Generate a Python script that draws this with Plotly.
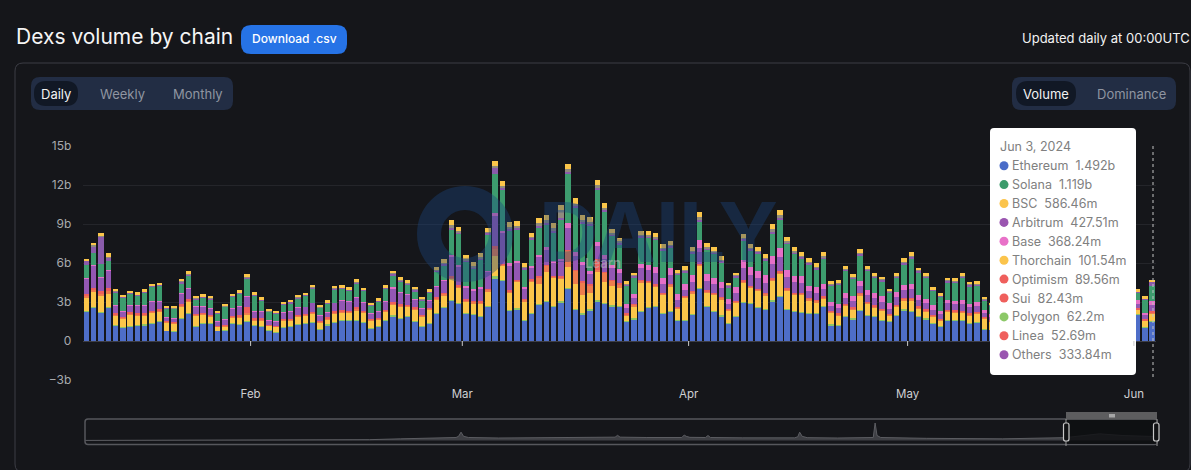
import pandas as pd
import plotly.graph_objects as go

W, H = 1191, 470
BG = "#15161a"

dates = pd.date_range("2024-01-09", "2024-06-03", freq="D")

ethereum = [
    2.26, 2.56, 2.2, 2.54,
    1.18, 1.05, 1.1, 1.2, 1.23, 1.38, 1.51, .77, .72, 1.72, 2.13, 1.1, 1.33, 1.36, .77, .79, 1.33, 1.26, 1.49, 1.18, 1.1, .82, .69, 1.05, 1.1, 1.26, 1.38, 1.46, .9, 1.23, 1.46, 1.56, 1.56, 1.56, 1.41, .95, 1.08, 1.54, 1.92, 1.74,
    1.87, 1.49, 1.15, 1.36, 2.1, 2.56, 3.08, 2.87, 2.08, 2.0, 1.87, 2.62, 4.82, 4.64, 2.31, 2.46, 1.56, 2.1, 2.79, 3.0, 2.62, 2.97, 4.0, 2.41, 2.05, 2.36, 3.05, 2.87, 2.69, 2.62,
    1.49, 1.69, 2.26, 2.56, 2.62, 2.13, 2.26, 1.54, 1.56, 2.03, 4.0, 2.62, 2.28, 1.92, 1.31, 1.85, 2.95, 2.87, 2.54, 2.41, 3.05, 3.41, 2.41, 2.28, 2.18, 2.13, 2.08, 2.64, 1.23, 1.18, 1.87, 1.69, 2.31, 1.97, 1.85, 1.56, 1.51, 1.95, 2.38, 2.28,
    1.87, 1.69, 1.33, 1.1, 1.59, 1.56, 1.54, 1.33, 1.44, .9, .85, 1.1, 1.2, 1.3, 1.0, .9, 1.2, 1.4, 1.5, 1.3, 1.1, 1.0, 1.3, 1.6, 1.7, 1.5, 1.2, 1.1, 1.4, 1.8, 2.0, 1.05, 1.492,
]
polygon = [
    .05, .05, .05, .05,
    .04, .04, .04, .04, .04, .04, .04, .03, .03, .05, .05, .04, .04, .04, .03, .03, .04, .04, .05, .04, .04, .03, .03, .03, .04, .04, .04, .04, .03, .04, .04, .04, .04, .05, .04, .03, .04, .04, .05, .05,
    .05, .05, .04, .04, .05, .06, .08, .06, .06, .06, .06, .06, .15, .08, .08, .08, .06, .06, .08, .08, .08, .08, .08, .08, .08, .08, .08, .08, .06, .06,
    .05, .05, .06, .06, .06, .06, .06, .05, .06, .06, .08, .06, .06, .06, .05, .05, .06, .06, .06, .06, .08, .08, .06, .06, .06, .06, .06, .06, .05, .05, .05, .05, .06, .05, .05, .05, .04, .05, .06, .06,
    .05, .05, .04, .04, .05, .05, .05, .05, .05, .04, .03, .04, .04, .04, .04, .04, .04, .04, .04, .04, .04, .04, .04, .04, .04, .04, .04, .04, .04, .04, .04, .04, .062,
]
bsc = [
    1.03, 1.15, 1.26, 1.05,
    .77, .62, .92, .75, .72, .75, .75, .62, .59, .87, .87, .8, .67, .46, .28, .33, .44, .54, .51, .39, .46, .31, .36, .51, .41, .57, .51, .59, .5, .41, .64, .62, .59, .77, .75, .59, .51, .67, .85, .85,
    .7, .9, .7, 1.0, 1.05, .9, 1.65, 1.2, .9, .85, .95, 1.15, 1.6, 1.05, 1.35, 2.0, 1.45, 2.4, 1.55, 2.2, 2.15, 1.75, 1.65, 1.9, 1.4, 1.25, 2.25, 1.6, 1.45, 1.4,
    .45, .95, 2.2, 1.85, 1.5, 1.35, 1.9, .9, 1.7, 1.6, 1.7, 1.05, 1.2, 1.25, .95, 1.05, 1.5, 1.15, 1.25, 1.05, 1.5, 1.7, 1.4, 1.2, 1.3, .95, .85, .55, .9, .75, .8, .7, 1.15, .85, .7, .7, .4, .65, .7, .8,
    .6, .55, .5, .45, .6, .6, .6, .6, .6, .8, .6, .5, .5, .5, .45, .4, .5, .55, .6, .5, .5, .45, .5, .55, .6, .55, .5, .45, .5, .55, .35, .45, .586,
]
sui = [
    .15, .2, .15, .2,
    .07, .07, .07, .07, .07, .07, .07, .05, .05, .1, .1, .07, .07, .07, .05, .05, .07, .07, .1, .07, .07, .05, .05, .05, .07, .07, .07, .07, .05, .07, .07, .07, .07, .1, .07, .05, .07, .07, .1, .1,
    .08, .08, .07, .07, .08, .1, .1, .1, .1, .1, .1, .1, .5, .1, .1, .1, .1, .1, .5, .5, .1, .1, 1.2, 1.0, 1.0, .6, .1, .7, .45, .3,
    .08, .08, .1, .1, .1, .1, .1, .08, .1, .1, .1, .1, .1, .1, .08, .08, .1, .1, .1, .1, .1, .1, .1, .1, .1, .1, .1, .1, .08, .08, .08, .08, .1, .08, .08, .08, .07, .08, .1, .1,
    .08, .08, .07, .07, .08, .08, .08, .08, .08, .07, .05, .07, .07, .07, .07, .07, .07, .07, .07, .07, .07, .07, .07, .07, .07, .07, .07, .07, .07, .07, .07, .07, .082,
]
optimism = [
    .15, .15, .15, .2,
    .07, .07, .07, .07, .07, .07, .07, .05, .05, .1, .1, .07, .07, .07, .05, .05, .07, .07, .5, .07, .07, .05, .05, .05, .07, .07, .07, .07, .05, .07, .07, .07, .07, .1, .07, .05, .07, .07, .1, .1,
    .07, .07, .07, .07, .07, .08, .08, .08, .08, .08, .08, .08, .2, .08, .08, .08, .08, .08, .08, .08, .08, .08, .08, .08, .08, .08, .8, .08, .08, .08,
    .07, .07, .08, .08, .08, .08, .08, .07, .08, .08, .08, .08, .08, .08, .07, .07, .08, .08, .08, .08, .08, .08, .08, .08, .08, .08, .08, .08, .07, .07, .07, .07, .08, .07, .07, .07, .07, .07, .08, .08,
    .07, .07, .07, .07, .07, .07, .07, .07, .07, .07, .05, .07, .07, .07, .07, .07, .07, .07, .07, .07, .07, .07, .07, .07, .07, .07, .07, .07, .07, .07, .07, .07, .09,
]
arbitrum = [
    1.18, 1.7, 1.1, 1.35,
    .6, .4, .55, .6, .6, .7, .6, .3, .3, .8, .75, .55, .5, .5, .35, .4, .55, .65, .75, .5, .55, .35, .35, .5, .6, .6, .55, .7, .45, .4, .65, .75, .7, .75, .6, .45, .5, .65, 1.05, .9,
    .8, .6, .45, .6, .85, .95, 1.5, 1.4, .9, .8, 1.0, 1.3, 2.4, 2.4, 1.9, 1.3, .75, .9, 1.5, 1.2, 1.0, 1.2, 1.7, 1.1, 1.2, .75, 1.0, .95, .85, .8,
    .4, .45, .9, .8, .85, .7, .7, .5, .4, .7, 1.2, .7, .65, .7, .4, .6, .95, .85, .8, .8, 1.1, 1.1, .85, .8, .75, .5, .55, .55, .4, .4, .45, .45, .55, .5, .55, .55, .4, .55, .6, .65,
    .5, .45, .4, .35, .5, .45, .5, .45, .45, .3, .3, .35, .35, .4, .3, .3, .35, .4, .45, .4, .35, .3, .4, .45, .45, .4, .35, .3, .4, .45, .35, .3, .428,
]
base = [
    .04, .05, .05, .05,
    .03, .03, .03, .03, .03, .03, .03, .02, .02, .05, .05, .03, .03, .03, .02, .02, .03, .03, .05, .03, .03, .02, .02, .02, .03, .03, .03, .03, .02, .03, .03, .03, .03, .05, .03, .02, .03, .03, .05, .05,
    .05, .05, .05, .05, .05, .05, .1, .1, .1, .1, .1, .1, .15, .15, .15, .15, .15, .15, .15, .15, .15, .15, .4, .3, .3, .3, .3, .3, .3, .3,
    .3, .3, .35, .4, .45, .45, .55, .45, .45, .5, .6, .55, .5, .45, .35, .45, .6, .6, .55, .55, .6, .65, .55, .5, .5, .4, .45, .4, .3, .3, .4, .4, .4, .4, .4, .45, .4, .4, .4, .4,
    .4, .35, .35, .25, .3, .3, .3, .3, .3, .2, .2, .25, .25, .3, .25, .2, .25, .3, .3, .3, .25, .25, .3, .3, .35, .3, .25, .25, .3, .3, .25, .2, .368,
]
solana = [
    .95, .9, 1.0, .75,
    .99, 1.03, .84, .73, .96, 1.12, 1.17, .65, .71, .75, .96, .55, .63, .68, .56, .95, .86, .99, 1.35, 1.21, .79, .61, .56, .59, .6, .65, .82, 1.1, .54, .63, 1.02, .87, .82, 1.01, .88, .61, .71, .94, .94, .78,
    .73, .6, .6, .53, 1.1, 1.11, 2.0, 2.43, 1.87, 1.56, 2.08, 2.81, 3.0, 3.13, 2.5, 2.39, 1.35, 2.04, 2.1, 1.78, 2.2, 3.0, 3.8, 3.4, 2.9, 3.45, 4.1, 3.36, 2.2, 1.9,
    1.4, 1.32, 2.04, 2.09, 2.12, 2.12, 1.54, 1.5, .93, 1.69, 1.46, 1.85, 1.84, 1.5, .94, .76, 1.49, 1.25, 1.35, 1.14, 1.79, 2.26, 2.02, 1.69, 1.4, 1.69, 1.36, 1.94, 1.21, 1.51, 1.7, 1.34, 1.95, 1.47, 1.15, 1.14, .85, 1.1, 1.56, 2.0,
    1.72, 1.64, 1.12, 1.07, 1.33, 1.39, 1.71, 1.33, 1.25, .76, .65, .9, 1.0, 1.1, .8, .7, 1.0, 1.2, 1.3, 1.1, .9, .8, 1.1, 1.2, 1.3, 1.1, .9, .85, 1.0, 1.1, .6, 1.01, 1.119,
]
others = [
    .35, .5, 2.1, .2,
    .08, .08, .08, .08, .08, .08, .08, .06, .06, .1, .1, .08, .08, .08, .06, .06, .08, .08, .1, .08, .08, .06, .06, .06, .08, .08, .08, .08, .06, .08, .08, .08, .08, .1, .08, .06, .08, .08, .1, .1,
    .1, .1, .08, .08, .1, .12, .15, .12, .12, .12, .12, .12, .5, .15, .15, .15, .12, .12, .15, .15, .15, .15, .15, .15, .15, .15, .15, .15, .12, .12,
    .1, .1, .12, .12, .12, .12, .12, .1, .12, .12, .15, .12, .12, .12, .1, .1, .12, .12, .12, .12, .15, .15, .12, .12, .12, .12, .12, .12, .1, .1, .1, .1, .12, .1, .1, .1, .08, .1, .12, .12,
    .1, .1, .08, .08, .1, .1, .1, .1, .1, .08, .06, .08, .08, .08, .08, .08, .08, .08, .08, .08, .08, .08, .08, .08, .08, .08, .08, .08, .08, .08, .08, .08, .334,
]
linea = [
    .05, .1, .05, .1,
    .03, .03, .03, .03, .03, .03, .03, .02, .02, .05, .05, .03, .03, .03, .02, .02, .03, .03, .05, .03, .03, .02, .02, .02, .03, .03, .03, .03, .02, .03, .03, .03, .03, .05, .03, .02, .03, .03, .05, .05,
    .05, .05, .03, .03, .05, .08, .15, .08, .08, .08, .08, .08, .15, .15, .15, .15, .08, .08, .15, .15, .15, .6, .15, .15, .15, .15, .15, .15, .08, .08,
    .05, .05, .08, .08, .08, .08, .08, .05, .08, .08, .15, .08, .08, .08, .05, .05, .08, .08, .08, .08, .15, .15, .08, .08, .08, .08, .08, .08, .05, .05, .05, .05, .08, .05, .05, .05, .03, .05, .08, .08,
    .05, .05, .03, .03, .05, .05, .05, .05, .05, .03, .02, .03, .03, .03, .03, .03, .03, .03, .03, .03, .03, .03, .03, .03, .03, .03, .03, .03, .03, .03, .03, .03, .053,
]
thorchain = [
    .12, .2, .2, .25,
    .15, .15, .15, .15, .15, .15, .15, .12, .12, .2, .2, .15, .15, .15, .12, .12, .15, .15, .2, .15, .15, .12, .12, .12, .15, .15, .15, .15, .12, .15, .15, .15, .15, .2, .15, .12, .15, .15, .2, .2,
    .2, .2, .15, .15, .2, .3, .4, .3, .3, .3, .3, .3, .35, .4, .4, .4, .3, .3, .4, .4, .4, .4, .4, .4, .4, .4, .4, .4, .3, .3,
    .2, .2, .3, .3, .3, .3, .3, .2, .3, .3, .4, .3, .3, .3, .2, .2, .3, .3, .3, .3, .4, .4, .3, .3, .3, .3, .3, .3, .2, .2, .2, .2, .3, .2, .2, .2, .15, .2, .3, .3,
    .2, .2, .15, .15, .2, .2, .2, .2, .2, .15, .12, .15, .15, .15, .15, .15, .15, .15, .15, .15, .15, .15, .15, .15, .15, .15, .15, .15, .15, .15, .15, .15, .102,
]

# overview strip under the chart, whole history in billions
mini_dates = [
    "2019-09-21", "2020-03-24", "2020-08-15", "2020-10-08", "2020-10-12", "2020-10-16", "2020-12-20", "2021-02-08",
    "2021-03-13", "2021-04-14", "2021-05-08", "2021-05-12", "2021-05-16", "2021-05-20", "2021-05-28", "2021-07-15",
    "2021-10-20", "2021-11-15", "2021-12-15", "2022-01-18", "2022-01-22", "2022-01-26", "2022-03-10", "2022-05-05",
    "2022-05-09", "2022-05-12", "2022-05-18", "2022-06-12", "2022-06-16", "2022-06-20", "2022-08-10", "2022-10-01",
    "2022-11-02", "2022-11-07", "2022-11-10", "2022-11-14", "2022-11-22", "2023-01-10", "2023-03-08", "2023-03-11",
    "2023-03-14", "2023-03-20", "2023-06-01", "2023-10-01", "2024-01-09", "2024-03-05", "2024-04-10", "2024-06-03",
]
mini_volume = [
    .1, .2, .5, .6, 1.2, .6, 1.0, 2.0,
    2.6, 3.2, 3.6, 5.0, 10.0, 5.0, 3.6, 3.0,
    3.4, 3.8, 4.0, 4.0, 6.2, 4.0, 3.6, 3.6,
    6.6, 5.0, 3.8, 3.6, 6.0, 3.6, 3.2, 3.0,
    3.2, 4.5, 10.0, 5.0, 3.4, 3.0, 3.6, 21.0,
    6.0, 3.6, 2.6, 2.0, 3.4, 8.0, 6.0, 4.7,
]

y_ticks = [-3, 0, 3, 6, 9, 12, 15]
y_tick_labels = ["\u22123b", "0", "3b", "6b", "9b", "12b", "15b"]
month_ticks = ["2024-02-01", "2024-03-01", "2024-04-01", "2024-05-01", "2024-06-01"]
month_labels = ["Feb", "Mar", "Apr", "May", "Jun"]

tooltip_names = ["Ethereum", "Solana", "BSC", "Arbitrum", "Base", "Thorchain", "Optimism", "Sui", "Polygon", "Linea", "Others"]
tooltip_values = ["1.492b", "1.119b", "586.46m", "427.51m", "368.24m", "101.54m", "89.56m", "82.43m", "62.2m", "52.69m", "333.84m"]
tooltip_colors = ["#4a6cc8", "#3c9c6c", "#fbc44c", "#9a55b0", "#e871c8", "#fbc44c", "#ef5f5c", "#ef5f5c", "#8cc868", "#ef5f5c", "#9a55b0"]

# stacking order seen in the bars, bottom to top
series = [
    ("Ethereum", ethereum, "#4e6ec8"),
    ("Polygon", polygon, "#8cc665"),
    ("BSC", bsc, "#fbc64a"),
    ("Sui", sui, "#ee7d4d"),
    ("Optimism", optimism, "#ee5f5b"),
    ("Arbitrum", arbitrum, "#9357b3"),
    ("Base", base, "#e56fc7"),
    ("Solana", solana, "#3d9c6e"),
    ("Others", others, "#8a5bab"),
    ("Linea", linea, "#8f8a7d"),
    ("Thorchain", thorchain, "#fbc64a"),
]


def px(x):
    return x / W


def py(y):
    return 1 - y / H


def round_rect(x0, y0, x1, y1, r, fill="rgba(0,0,0,0)", line=None, width=1, layer="below"):
    path = (
        f"M {px(x0 + r)} {py(y0)} L {px(x1 - r)} {py(y0)} Q {px(x1)} {py(y0)} {px(x1)} {py(y0 + r)} "
        f"L {px(x1)} {py(y1 - r)} Q {px(x1)} {py(y1)} {px(x1 - r)} {py(y1)} "
        f"L {px(x0 + r)} {py(y1)} Q {px(x0)} {py(y1)} {px(x0)} {py(y1 - r)} "
        f"L {px(x0)} {py(y0 + r)} Q {px(x0)} {py(y0)} {px(x0 + r)} {py(y0)} Z"
    )
    return dict(type="path", xref="paper", yref="paper", path=path, fillcolor=fill,
                line=dict(color=line or "rgba(0,0,0,0)", width=width if line else 0), layer=layer)


def label(text, x, y, size, color, anchor="left", weight=400, family="Inter"):
    return dict(text=text, x=px(x), y=py(y), xref="paper", yref="paper", showarrow=False,
                xanchor=anchor, yanchor="middle", borderpad=0, borderwidth=0,
                font=dict(size=size, color=color, family=family, weight=weight))


def seg_line(x0, y0, x1, y1, color, width=1, dash="solid"):
    return dict(type="line", xref="paper", yref="paper", x0=px(x0), y0=py(y0), x1=px(x1), y1=py(y1),
                line=dict(color=color, width=width, dash=dash), layer="above")


fig = go.Figure()
for name, values, color in series:
    fig.add_trace(go.Bar(
        x=dates, y=values, name=name, marker=dict(color=color, line=dict(width=0)),
        xperiod=86400000, xperiodalignment="middle",
    ))

fig.add_trace(go.Scatter(
    x=mini_dates, y=mini_volume, xaxis="x2", yaxis="y2", mode="lines",
    line=dict(color="#5c5d62", width=1), fill="tozeroy", fillcolor="#3e3f44",
))

shapes = [
    round_rect(15, 63, 1190, 472, 8, line="#3c3d45"),
    round_rect(241, 25, 347, 54, 10, fill="#2673e6"),
    round_rect(31, 77, 233, 110, 9, fill="#222d44"),
    round_rect(34, 81, 78, 106, 12, fill="#111825"),
    round_rect(1012, 77, 1176, 110, 9, fill="#222d44"),
    round_rect(1016, 81, 1076, 106, 12, fill="#111825"),
    # watermark ring
    dict(type="circle", xref="paper", yref="paper", x0=px(429), x1=px(501), y0=py(270), y1=py(198),
         line=dict(color="rgba(25,70,130,0.38)", width=24), layer="above"),
    # crosshair
    seg_line(1153, 146, 1153, 380, "#c4c4c4", 1, "3px,3px"),
    # tooltip
    round_rect(990, 128, 1136, 375, 4, fill="#ffffff", layer="above"),
    # overview strip frame
    round_rect(85, 419, 1157, 444.5, 3, line="#56575c", width=1.5, layer="above"),
    dict(type="rect", xref="paper", yref="paper", x0=px(1066), x1=px(1157), y0=py(420), y1=py(444),
         fillcolor="#0e0f11", opacity=0.82, line=dict(width=0), layer="above"),
    dict(type="rect", xref="paper", yref="paper", x0=px(1066), x1=px(1157), y0=py(412), y1=py(419.5),
         fillcolor="#5d5d5f", line=dict(width=0), layer="above"),
    seg_line(1110, 414, 1110, 417.5, "#f0f0f0", 1),
    seg_line(1112, 414, 1112, 417.5, "#f0f0f0", 1),
    seg_line(1114, 414, 1114, 417.5, "#f0f0f0", 1),
    seg_line(1066, 419, 1066, 446, "#9a9a9a", 1),
    seg_line(1157, 419, 1157, 446, "#9a9a9a", 1),
    round_rect(1063.5, 423, 1069, 441, 2, fill="#111214", line="#c8c8c8", width=1.2, layer="above"),
    round_rect(1153.5, 423, 1159, 441, 2, fill="#111214", line="#c8c8c8", width=1.2, layer="above"),
]
# month ticks sit on the zero line
for tick in month_ticks:
    shapes.append(dict(type="line", xref="x", yref="y", x0=tick, x1=tick, y0=0, y1=-0.38,
                       line=dict(color="#c8c8c8", width=1), layer="above"))

annotations = [
    label("Dexs volume by chain", 16, 36, 21, "#f5f5f5"),
    label("Download .csv", 294, 39, 12, "#ffffff", "center", 500),
    label("Updated daily at 00:00UTC", 1190, 38, 13, "#f2f2f2", "right"),
    label("Daily", 56, 93.5, 13, "#f2f2f2", "center"),
    label("Weekly", 122, 93.5, 13, "#8f95a1", "center"),
    label("Monthly", 198, 93.5, 13, "#8f95a1", "center"),
    label("Volume", 1046, 93.5, 13, "#f2f2f2", "center"),
    label("Dominance", 1131, 93.5, 13, "#8f95a1", "center"),
    label("DAILY", 658, 232, 82, "rgba(25,70,130,0.38)", "center", 700),
    label("Learn", 603, 263, 13, "rgba(190,190,190,0.55)", "center", 600),
    label("Jun 3, 2024", 999.5, 147, 12.5, "#808080"),
]
for i, (name, value, color) in enumerate(zip(tooltip_names, tooltip_values, tooltip_colors)):
    row_y = 165.7 + i * 18.9
    shapes.append(dict(type="circle", xref="paper", yref="paper", x0=px(999.5), x1=px(1008.5),
                       y0=py(row_y + 4.5), y1=py(row_y - 4.5), fillcolor=color, line=dict(width=0), layer="above"))
    annotations.append(label(f"{name}\u00a0\u00a0{value}", 1012, row_y, 12.5, "#808080"))

fig.update_layout(
    width=W, height=H, margin=dict(l=0, r=0, t=0, b=0),
    paper_bgcolor=BG, plot_bgcolor=BG,
    barmode="stack", bargap=0.25, showlegend=False, hovermode=False,
    shapes=shapes, annotations=annotations,
    font=dict(family="Inter", color="#b0b2b6", size=12),
    xaxis=dict(
        domain=[px(82.7), px(1155.8)], range=["2024-01-09", "2024-06-04"], type="date", automargin=False,
        tickvals=month_ticks, ticktext=month_labels, showgrid=False, zeroline=False, showline=False,
        ticks="outside", ticklen=3, tickcolor=BG, tickfont=dict(size=11.5, color="#cfd0d2"),
    ),
    yaxis=dict(
        domain=[py(380), py(146)], range=[-3, 15], tickvals=y_ticks, ticktext=y_tick_labels, automargin=False,
        gridcolor="#24252a", gridwidth=1, zeroline=True, zerolinecolor="#3d3e46", zerolinewidth=1,
        showline=False, ticks="outside", ticklen=8, tickcolor=BG, tickfont=dict(size=12, color="#a8aaae"),
    ),
    xaxis2=dict(domain=[px(85), px(1157)], range=["2019-09-21", "2024-06-05"], anchor="y2",
                visible=False, type="date", automargin=False),
    yaxis2=dict(domain=[py(444), py(419)], range=[-4.2, 25.8], anchor="x2", visible=False, automargin=False),
)

# browser default body margin would shift the whole figure
fig.write_html(
    "out.html",
    config={"displayModeBar": False},
    post_script="document.body.style.margin='0';document.body.style.background='#15161a';",
)
